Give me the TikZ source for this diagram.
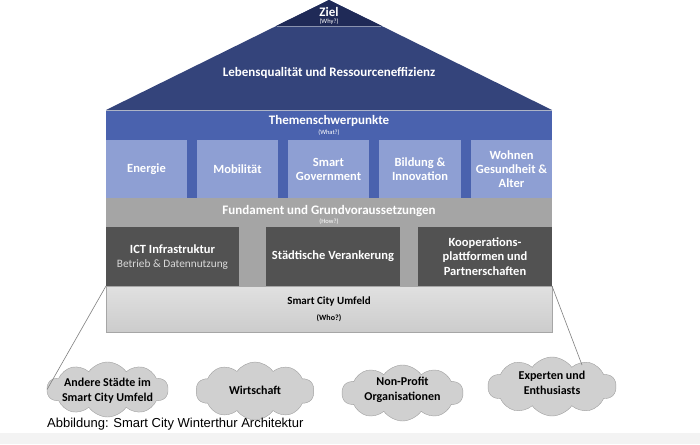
\documentclass[tikz,border=0pt]{standalone}
\usepackage{fontspec}
\setmainfont{Carlito}
\newfontfamily\capfont{Liberation Sans}
\usetikzlibrary{shapes.symbols,backgrounds}
\definecolor{zielc}{HTML}{1F2A57}
\definecolor{roofc}{HTML}{34447B}
\definecolor{themec}{HTML}{4A62AE}
\definecolor{tboxc}{HTML}{8E9FD3}
\definecolor{fundc}{HTML}{A5A5A5}
\definecolor{darkc}{HTML}{525252}
\definecolor{umfborder}{HTML}{A6A6A6}
\definecolor{cloudc}{HTML}{D0D0D0}
\definecolor{cloudb}{HTML}{A0A0A0}
\definecolor{linec}{HTML}{7F7F7F}
\definecolor{sepc}{HTML}{8A93AE}
\definecolor{subtxt}{HTML}{D9D9D9}
\definecolor{bandc}{HTML}{F3F3F3}
\tikzset{
  tbox/.style={fill=tboxc, inner sep=0pt, outer sep=0pt, minimum height=58pt, text=white, font=\bfseries\fontsize{12.5}{14}\selectfont, align=center},
  dbox/.style={fill=darkc, inner sep=0pt, outer sep=0pt, minimum height=59pt, text=white, font=\bfseries\fontsize{12.5}{14.5}\selectfont, align=center},
  wtitle/.style={text=white, inner sep=0pt, font=\bfseries\fontsize{13}{15}\selectfont},
  wsub/.style={text=white, inner sep=0pt, font=\fontsize{6.5}{7}\selectfont},
  cloudn/.style={cloud, cloud puffs=10, cloud puff arc=110, cloud ignores aspect, draw=cloudb, fill=cloudc, inner sep=0pt, outer sep=0pt},
  cloudtxt/.style={inner sep=0pt, align=center, font=\bfseries\fontsize{12}{14.5}\selectfont},
  conn/.style={draw=linec, line width=0.6pt}
}
\begin{document}
\begin{tikzpicture}[x=1pt,y=-1pt]
\useasboundingbox (0,0) rectangle (700,444);
\fill[white] (0,0) rectangle (700,444);
\fill[bandc] (0,433) rectangle (700,444);
% roof
\fill[roofc] (106,110) -- (329,0) -- (552,110) -- cycle;
\fill[zielc] (276,26) -- (329,0) -- (382,26) -- cycle;
\draw[sepc, line width=0.8pt] (277,26) -- (381,26);
\node[wtitle] (ziel) at (329,12) {Ziel};
\node[wsub] (why) at (329,21.5) {(Why?)};
\node[wtitle] (lebq) at (329,73) {Lebensqualität und Ressourceneffizienz};
% Themen
\fill[themec] (106,110) rectangle (552,198);
\draw[sepc!70!white, line width=0.8pt] (106,110.5) -- (552,110.5);
\node[wtitle] (themen) at (329,121) {Themenschwerpunkte};
\node[wsub] (what) at (329,132.5) {(What?)};
\node[tbox, minimum width=81pt] (energie) at (146.5,169) {Energie};
\node[tbox, minimum width=81pt] (mobil) at (237.5,169) {Mobilität};
\node[tbox, minimum width=81pt] (smartgov) at (328.5,169) {Smart\\Government};
\node[tbox, minimum width=82pt] (bildung) at (420,169) {Bildung \&\\Innovation};
\node[tbox, minimum width=81pt] (wohnen) at (511.5,169) {Wohnen\\Gesundheit \&\\Alter};
% Fundament
\fill[fundc] (106,198) rectangle (552,286);
\node[wtitle] (fund) at (329,211) {Fundament und Grundvoraussetzungen};
\node[wsub] (how) at (329,221.5) {(How?)};
\node[dbox, minimum width=133pt] (ict) at (172.5,256.5) {};
\node[inner sep=0pt, text=white, font=\bfseries\fontsize{12.5}{14}\selectfont] (icttitle) at (172.5,249.5) {ICT Infrastruktur};
\node[inner sep=0pt, text=subtxt, font=\fontsize{11.3}{13}\selectfont] (ictsub) at (172.5,265) {Betrieb \& Datennutzung};
\node[dbox, minimum width=134pt] (staedt) at (333,256.5) {Städtische Verankerung};
\node[dbox, minimum width=134pt] (koop) at (485,256.5) {Kooperations-\\plattformen und\\Partnerschaften};
% Umfeld
\node[draw=umfborder, line width=0.6pt, top color=white!88!black, bottom color=white!80!black, minimum width=446pt, minimum height=46pt, inner sep=0pt, outer sep=0pt] (umf) at (329,309) {};
\node[inner sep=0pt, font=\bfseries\fontsize{11}{13}\selectfont] (umft) at (329,302) {Smart City Umfeld};
\node[inner sep=0pt, font=\bfseries\fontsize{8}{9}\selectfont] (who) at (329,318) {(Who?)};
% clouds
\coordinate (lineY) at (0,389.5);
\coordinate (rend) at (582,365);
\node[cloudn, minimum width=121pt, minimum height=55pt] (c1) at (107.5,389.5) {};
\node[cloudn, minimum width=118pt, minimum height=58pt] (c2) at (255,391) {};
\node[cloudn, minimum width=121pt, minimum height=56pt] (c3) at (402.5,393) {};
\node[cloudn, minimum width=128pt, minimum height=59pt] (c4) at (552,386.5) {};
\begin{scope}[on background layer]
\draw[conn] (c1.center |- lineY) -- (c4.center |- lineY);
\end{scope}
\draw[conn] (umf.north west) -- (c1.west);
\draw[conn] (umf.north east) -- (rend);
\node[cloudtxt] (t1) at (107.5,390.5) {Andere Städte im\\Smart City Umfeld};
\node[cloudtxt] (t2) at (255,390) {Wirtschaft};
\node[cloudtxt] (t3) at (402.5,390) {Non-Profit\\Organisationen};
\node[cloudtxt] (t4) at (552,383) {Experten und\\Enthusiasts};
\node[anchor=base west, inner sep=0pt, font=\capfont\fontsize{13}{15}\selectfont] (cap) at (47,427) {Abbildung: Smart City Winterthur Architektur};
\end{tikzpicture}
\end{document}
